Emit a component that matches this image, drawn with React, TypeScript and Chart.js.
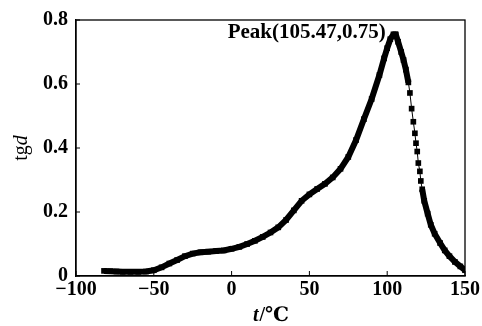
import React, { useEffect, useRef } from "react";
import { Chart, registerables } from "chart.js";

Chart.register(...registerables);

const temps: number[] = [
  -82, -78, -74, -70, -65, -60, -55, -50, -45, -40, -35, -30, -25, -20, -15, -10, -5,
  0, 5, 10, 15, 20, 25, 30, 35, 40, 45, 50, 55, 60, 65, 70, 75, 80, 85, 90, 95, 98,
  100, 102, 104, 105.5, 107, 109, 110.5, 112, 113.6, 114.6, 115.7, 116.8, 117.8, 118.5,
  119.3, 120, 121, 121.6, 122.5, 123.8, 126, 128, 130.5, 134, 137, 140, 143.5, 147, 150,
];
const tgd: number[] = [
  0.016, 0.015, 0.014, 0.013, 0.013, 0.013, 0.014, 0.018, 0.027, 0.039, 0.05, 0.062, 0.07,
  0.074, 0.076, 0.078, 0.08, 0.085, 0.091, 0.1, 0.11, 0.122, 0.136, 0.152, 0.175, 0.205,
  0.235, 0.255, 0.272, 0.288, 0.308, 0.335, 0.372, 0.425, 0.49, 0.553, 0.628, 0.68, 0.712,
  0.74, 0.755, 0.755, 0.732, 0.7, 0.675, 0.645, 0.605, 0.572, 0.523, 0.482, 0.446, 0.415,
  0.389, 0.353, 0.327, 0.297, 0.271, 0.235, 0.195, 0.16, 0.132, 0.103, 0.08, 0.062, 0.044,
  0.03, 0.018,
];
const xTicks: number[] = [-100, -50, 0, 50, 100, 150];
const yTicks: number[] = [0, 0.2, 0.4, 0.6, 0.8];
const peakT = 105.47;
const peakV = 0.75;
const peakLabel = "Peak(105.47,0.75)";
const xTitleItalic = "t";
const xTitleRest = "/℃";
const yTitleUpright = "tg";
const yTitleItalic = "d";

const FONT = "'Liberation Serif', 'Times New Roman', 'DejaVu Serif', 'Noto Sans CJK SC', serif";

const framePlugin = {
  id: "frame",
  afterDraw(chart: any) {
    const { ctx, chartArea, scales } = chart;
    const { left, right, top, bottom } = chartArea;
    ctx.save();
    ctx.strokeStyle = "#000";
    ctx.lineWidth = 1.3;
    ctx.strokeRect(left, top, right - left, bottom - top);
    // inward ticks
    ctx.lineWidth = 1;
    xTicks.forEach((v) => {
      const x = scales.x.getPixelForValue(v);
      ctx.beginPath();
      ctx.moveTo(x, bottom);
      ctx.lineTo(x, bottom - 5);
      ctx.stroke();
    });
    yTicks.forEach((v) => {
      const y = scales.y.getPixelForValue(v);
      ctx.beginPath();
      ctx.moveTo(left, y);
      ctx.lineTo(left + 4, y);
      ctx.stroke();
    });
    ctx.fillStyle = "#000";
    // peak annotation
    ctx.font = `bold 21px ${FONT}`;
    ctx.textAlign = "right";
    ctx.textBaseline = "alphabetic";
    const px = scales.x.getPixelForValue(peakT);
    const py = scales.y.getPixelForValue(peakV);
    ctx.fillText(peakLabel, px - 10, py + 2);
    // x title
    const cx = (left + right) / 2;
    ctx.textAlign = "left";
    ctx.font = `italic bold 20px ${FONT}`;
    const w1 = ctx.measureText(xTitleItalic).width;
    ctx.font = `bold 20px ${FONT}`;
    const w2 = ctx.measureText(xTitleRest).width;
    const sx = cx - (w1 + w2) / 2;
    ctx.font = `italic bold 20px ${FONT}`;
    ctx.fillText(xTitleItalic, sx, 321);
    ctx.font = `bold 20px ${FONT}`;
    ctx.fillText(xTitleRest, sx + w1 + 1, 321);
    // y title rotated
    ctx.translate(27, (top + bottom) / 2);
    ctx.rotate(-Math.PI / 2);
    ctx.font = `20px ${FONT}`;
    const u1 = ctx.measureText(yTitleUpright).width;
    ctx.font = `italic 20px ${FONT}`;
    const u2 = ctx.measureText(yTitleItalic).width;
    const sy = -(u1 + u2) / 2;
    ctx.font = `20px ${FONT}`;
    ctx.fillText(yTitleUpright, sy, 0);
    ctx.font = `italic 20px ${FONT}`;
    ctx.fillText(yTitleItalic, sy + u1, 0);
    ctx.restore();
  },
};

export default function App() {
  const ref = useRef<HTMLCanvasElement>(null);
  useEffect(() => {
    if (!ref.current) return;
    const chart = new Chart(ref.current, {
      type: "scatter",
      data: {
        datasets: [
          {
            data: temps.map((t, i) => ({ x: t, y: tgd[i] })),
            showLine: true,
            borderColor: "#000",
            backgroundColor: "#000",
            borderWidth: 6,
            pointStyle: "rect",
            pointRadius: 4,
            pointBorderWidth: 0,
            segment: {
              borderWidth: (c: any) =>
                c.p0.parsed.x >= 113 && c.p1.parsed.x <= 123 ? 1 : 6,
            },
          } as any,
        ],
      },
      options: {
        responsive: false,
        animation: false,
        layout: { padding: { top: 17, right: 15, left: 0, bottom: 0 } },
        plugins: { legend: { display: false }, tooltip: { enabled: false } },
        scales: {
          x: {
            type: "linear",
            min: -100,
            max: 150,
            afterFit: (s: any) => {
              s.height = 50;
            },
            afterBuildTicks: (s: any) => {
              s.ticks = xTicks.map((v) => ({ value: v }));
            },
            grid: { display: false, drawTicks: false },
            border: { display: true, color: "#000", width: 1.3 },
            ticks: {
              padding: 2,
              color: "#000",
              font: { family: FONT, size: 20, weight: "bold" },
              maxRotation: 0,
              callback: (v: any) => String(v).replace("-", "−"),
            },
          },
          y: {
            type: "linear",
            min: 0,
            max: 0.8,
            afterFit: (s: any) => {
              s.width = 76;
            },
            afterBuildTicks: (s: any) => {
              s.ticks = yTicks.map((v) => ({ value: v }));
            },
            grid: { display: false, drawTicks: false },
            border: { display: true, color: "#000", width: 1.3 },
            ticks: {
              padding: 8,
              color: "#000",
              font: { family: FONT, size: 20, weight: "bold" },
              callback: (v: any) => String(Math.round(v * 10) / 10),
            },
          },
        },
      },
      plugins: [framePlugin],
    });
    return () => chart.destroy();
  }, []);
  return (
    <div style={{ position: "absolute", left: 0, top: 0, width: 482, height: 326, background: "#fff" }}>
      <canvas ref={ref} width={482} height={326} style={{ width: 482, height: 326 }} />
    </div>
  );
}
